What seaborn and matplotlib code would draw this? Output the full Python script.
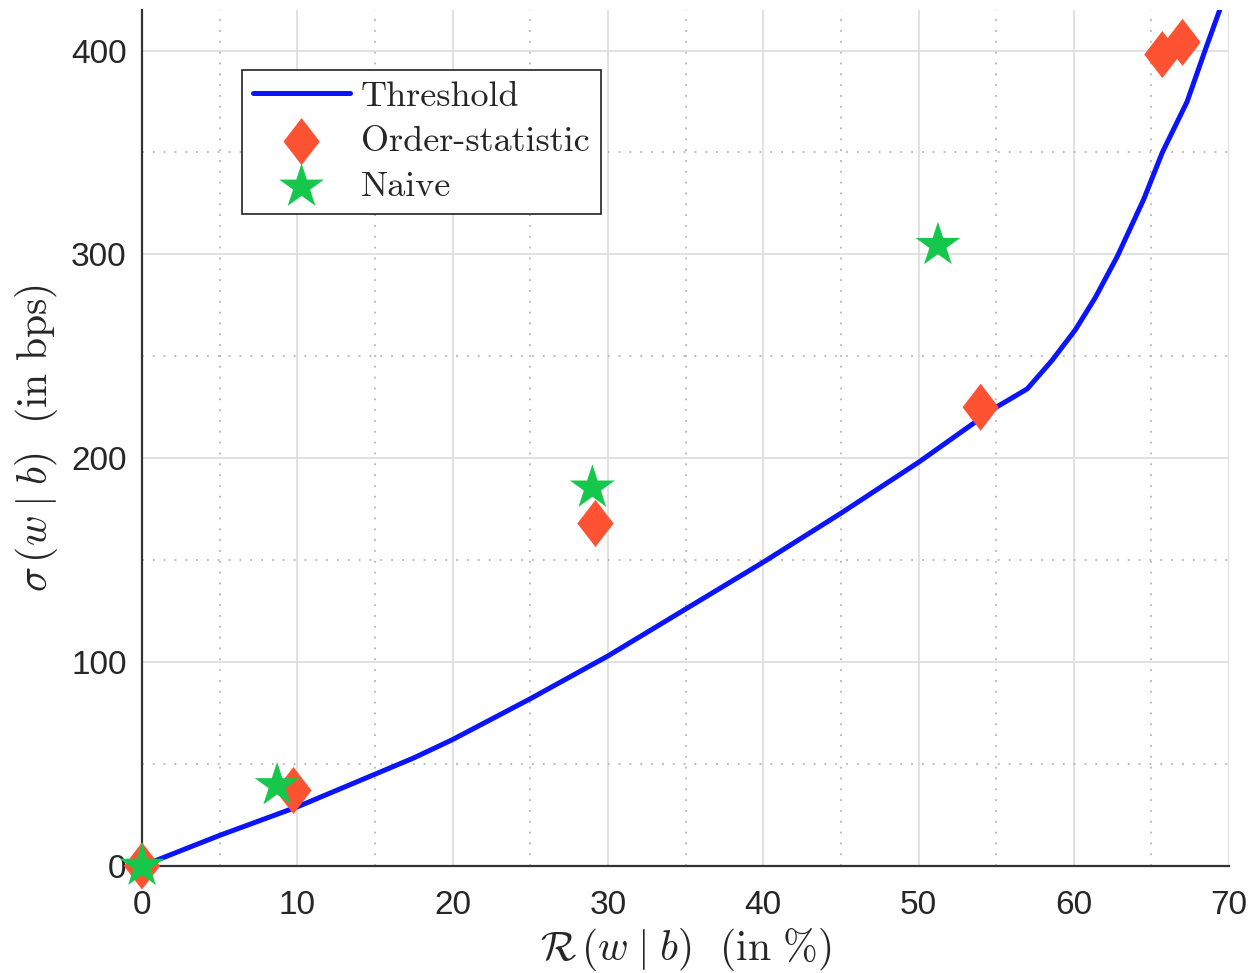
"""
阈值曲线与两种估计方法的对比散点图
"""
import matplotlib
import matplotlib.pyplot as plt
from matplotlib.ticker import MultipleLocator
import seaborn as sns

# 阈值曲线
threshold_x = [0, 5, 10, 15, 17.5, 20, 25, 30, 35, 40, 45, 50, 55, 57, 58.6, 60.1,
               61.4, 62.8, 64.5, 65.7, 67.3, 68.45, 69.4]
threshold_y = [0, 15, 29, 45, 53, 62, 82, 103, 126, 149, 173, 198, 225, 234, 248, 263,
               279, 299, 327, 350, 375, 400, 420]

# Order-statistic 点
order_x = [0, 9.75, 29.2, 54.0, 65.7, 67.0]
order_y = [0, 37, 168, 225, 398, 404]

# Naive 点
naive_x = [0, 8.7, 29.0, 51.25]
naive_y = [0, 39.5, 185.5, 304.5]

x_ticks = [0, 10, 20, 30, 40, 50, 60, 70]
y_ticks = [0, 100, 200, 300, 400]

sns.set_style("whitegrid")
plt.rcParams['font.family'] = ['Liberation Sans', 'DejaVu Sans']
plt.rcParams['mathtext.fontset'] = 'cm'

fig = plt.figure(figsize=(12.51, 9.73), dpi=100)
ax = fig.add_axes([0.1135, 0.110, 0.869, 0.880])

sns.lineplot(x=threshold_x, y=threshold_y, ax=ax, color='#0a14ff', linewidth=3.6,
             label='Threshold', zorder=3, sort=False)
diamond = [(0, 1), (0.77, 0), (0, -1), (-0.77, 0)]
sns.scatterplot(x=order_x, y=order_y, ax=ax, marker=diamond, s=1150, color='#ff5233',
                edgecolor='none', linewidth=0, label='Order-statistic', zorder=4, clip_on=False)
sns.scatterplot(x=naive_x, y=naive_y, ax=ax, marker='*', s=1150, color='#15c84b',
                edgecolor='none', linewidth=0, label='Naive', zorder=5, clip_on=False)

ax.set_xlim(0, 70)
ax.set_ylim(0, 420)
ax.set_xticks(x_ticks)
ax.set_yticks(y_ticks)
ax.xaxis.set_minor_locator(MultipleLocator(5))
ax.yaxis.set_minor_locator(MultipleLocator(50))

ax.grid(which='major', color='#dedede', linestyle='-', linewidth=1.3)
ax.grid(which='minor', color='#b5b5b5', linestyle=(0, (1, 5)), linewidth=1.3)
ax.set_axisbelow(True)

for side in ['top', 'right']:
    ax.spines[side].set_visible(False)
for side in ['left', 'bottom']:
    ax.spines[side].set_color('#333333')
    ax.spines[side].set_linewidth(1.6)

ax.tick_params(which='major', direction='in', length=8, width=1.6, color='#333333',
               labelsize=24, labelcolor='#262626')
ax.tick_params(axis='x', which='major', pad=17)
ax.tick_params(axis='y', which='major', pad=11)
ax.tick_params(which='minor', length=0)

ax.set_xlabel(r'$\mathcal{R}\,(w\;|\;b)\;\;\,(\mathrm{in}\ \%)$', fontsize=30, labelpad=4)
ax.set_ylabel(r'$\sigma\,(w\;|\;b)\;\;\,(\mathrm{in\ bps})$', fontsize=30, labelpad=8)

leg = ax.legend(loc='upper left', bbox_to_anchor=(0.092, 0.93), prop={'family': 'cmr10', 'size': 26},
                frameon=True, fancybox=False, edgecolor='#222222', framealpha=1,
                handlelength=2.7, handletextpad=0.3, borderpad=0.3, labelspacing=0.36,
                borderaxespad=0)
leg.get_frame().set_linewidth(1.2)

fig.savefig('out.png', dpi=100)
